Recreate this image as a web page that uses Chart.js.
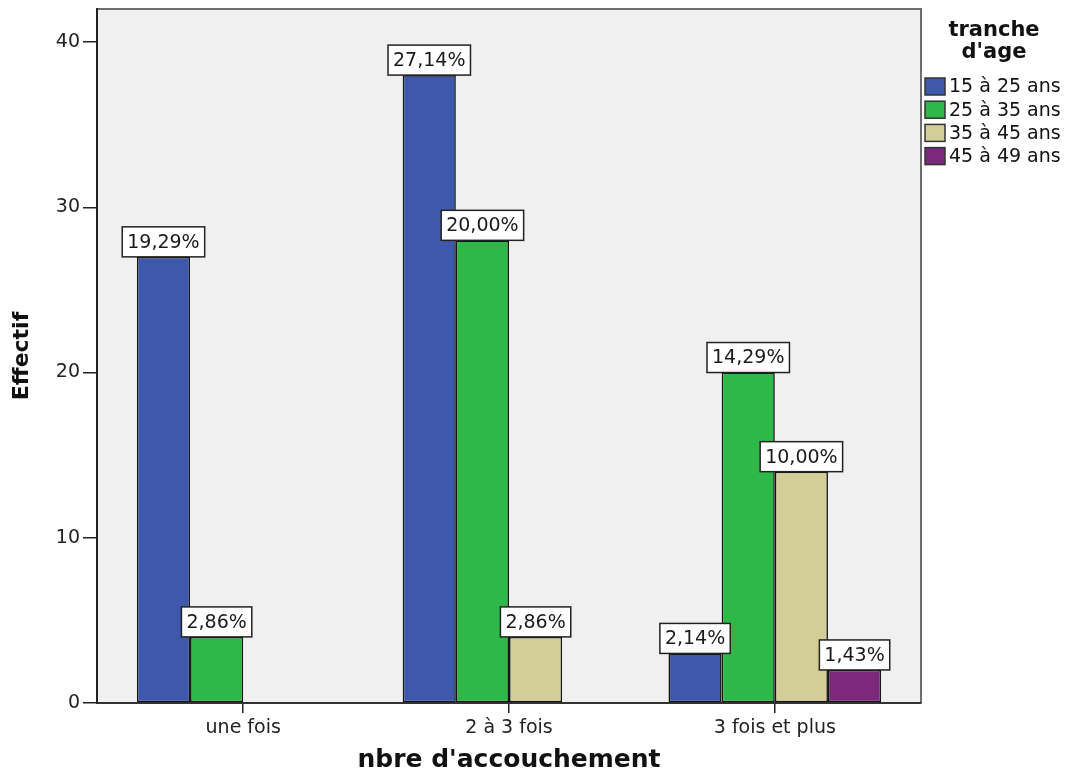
<!DOCTYPE html>
<html>
<head>
<meta charset="utf-8">
<script src="https://cdn.jsdelivr.net/npm/chart.js@4"></script>
<style>
  html, body { margin: 0; padding: 0; background: #fff; }
  #wrap { width: 1068px; height: 779px; }
</style>
</head>
<body>
<div id="wrap"><canvas id="accChart" width="1068" height="779"></canvas></div>
<script>
// categories on the x axis
const categories = ['une fois', '2 à 3 fois', '3 fois et plus'];
// age groups (legend)
const ageGroups = ['15 à 25 ans', '25 à 35 ans', '35 à 45 ans', '45 à 49 ans'];
// counts (Effectif) per age group, one value per category
const age15to25 = [27, 38, 3];
const age25to35 = [4, 28, 20];
const age35to45 = [0, 4, 14];
const age45to49 = [0, 0, 2];
const yTicks = [0, 10, 20, 30, 40];

const seriesValues = [age15to25, age25to35, age35to45, age45to49];
const barColors = ['#3E58AC', '#2EB848', '#D3CE97', '#7C287D'];
const total = seriesValues.flat().reduce((a, b) => a + b, 0);

const plotFrame = {
    id: 'plotFrame',
    beforeDraw(chart) {
        const { ctx, chartArea: a } = chart;
        ctx.save();
        ctx.fillStyle = '#F0F0F0';
        ctx.fillRect(a.left, a.top, a.right - a.left, a.bottom - a.top);
        ctx.strokeStyle = '#6e6e6e';
        ctx.lineWidth = 2;
        ctx.beginPath();
        ctx.moveTo(a.left, a.top);
        ctx.lineTo(a.right, a.top);
        ctx.lineTo(a.right, a.bottom);
        ctx.stroke();
        ctx.restore();
    }
};

// white boxed percentage labels on top of each bar
const barLabels = {
    id: 'barLabels',
    afterDatasetsDraw(chart) {
        const ctx = chart.ctx;
        ctx.save();
        ctx.font = '19px "DejaVu Sans"';
        ctx.textAlign = 'center';
        ctx.textBaseline = 'middle';
        chart.data.datasets.forEach((ds, i) => {
            const meta = chart.getDatasetMeta(i);
            meta.data.forEach((bar, j) => {
                const v = seriesValues[i][j];
                if (!v) return;
                const txt = (v / total * 100).toFixed(2).replace('.', ',') + '%';
                const w = ctx.measureText(txt).width + 10;
                const h = 30;
                ctx.fillStyle = '#fff';
                ctx.fillRect(bar.x - w / 2, bar.y - h, w, h);
                ctx.strokeStyle = '#222';
                ctx.lineWidth = 1.5;
                ctx.strokeRect(bar.x - w / 2, bar.y - h, w, h);
                ctx.fillStyle = '#1a1a1a';
                ctx.fillText(txt, bar.x, bar.y - h / 2 + 1);
            });
        });
        ctx.restore();
    }
};

// legend drawn at the right like the SPSS output
const sideLegend = {
    id: 'sideLegend',
    afterDraw(chart) {
        const ctx = chart.ctx;
        ctx.save();
        ctx.fillStyle = '#111';
        ctx.textAlign = 'center';
        ctx.textBaseline = 'middle';
        ctx.font = 'bold 21px "DejaVu Sans"';
        ctx.fillText('tranche', 994, 31);
        ctx.fillText("d'age", 994, 53);
        ctx.font = '19px "DejaVu Sans"';
        ctx.textAlign = 'left';
        chart.data.datasets.forEach((ds, i) => {
            const y = 86.5 + i * 23.2;
            ctx.fillStyle = ds.backgroundColor;
            ctx.fillRect(925, y - 8.5, 20, 17);
            ctx.strokeStyle = '#333';
            ctx.lineWidth = 1.5;
            ctx.strokeRect(925, y - 8.5, 20, 17);
            ctx.fillStyle = '#111';
            ctx.fillText(ds.label, 949, y + 1);
        });
        ctx.restore();
    }
};

const ctx = document.getElementById('accChart');

new Chart(ctx, {
    type: 'bar',
    data: {
        datasets: ageGroups.map((label, i) => ({
            label: label,
            data: seriesValues[i].map((v, j) => ({ x: j, y: v === 0 ? null : v })),
            backgroundColor: barColors[i],
            borderColor: '#151515',
            borderWidth: 1.6,
            borderSkipped: false,
            categoryPercentage: 0.8,
            barPercentage: 1
        }))
    },
    options: {
        responsive: false,
        animation: false,
        layout: { padding: { top: 9, right: 147, left: 0, bottom: 0 } },
        plugins: {
            legend: { display: false },
            tooltip: { enabled: false }
        },
        scales: {
            x: {
                type: 'linear',
                offset: false,
                min: -0.55,
                max: 2.55,
                afterBuildTicks: (scale) => {
                    scale.ticks = categories.map((c, i) => ({ value: i }));
                },
                afterFit: (scale) => {
                    scale.height = 76;
                    scale.paddingLeft = 0;
                    scale.paddingRight = 0;
                },
                ticks: {
                    autoSkip: false,
                    maxRotation: 0,
                    padding: 4,
                    color: '#222',
                    font: { family: '"DejaVu Sans"', size: 19 },
                    callback: (value) => categories[value]
                },
                grid: {
                    offset: false,
                    drawOnChartArea: false,
                    drawTicks: true,
                    tickLength: 10,
                    color: '#222',
                    lineWidth: 1.5
                },
                border: { display: true, color: '#333', width: 2 },
                title: {
                    display: true,
                    text: "nbre d'accouchement",
                    color: '#111',
                    font: { family: '"DejaVu Sans"', size: 25, weight: 'bold' },
                    padding: { top: 0, bottom: 4 }
                }
            },
            y: {
                min: 0,
                max: 42,
                afterBuildTicks: (scale) => {
                    scale.ticks = yTicks.map(v => ({ value: v }));
                },
                afterFit: (scale) => {
                    scale.width = 97;
                    scale.paddingTop = 0;
                    scale.paddingBottom = 0;
                },
                ticks: {
                    padding: 3,
                    color: '#222',
                    font: { family: '"DejaVu Sans"', size: 19 }
                },
                grid: {
                    drawOnChartArea: false,
                    drawTicks: true,
                    tickLength: 14,
                    color: '#222',
                    lineWidth: 1.5
                },
                border: { display: true, color: '#222', width: 2 },
                title: {
                    display: true,
                    text: 'Effectif',
                    color: '#111',
                    font: { family: '"DejaVu Sans"', size: 22, weight: 'bold' },
                    padding: { top: 9, bottom: 0 }
                }
            }
        }
    },
    plugins: [plotFrame, barLabels, sideLegend]
});
</script>
</body>
</html>
